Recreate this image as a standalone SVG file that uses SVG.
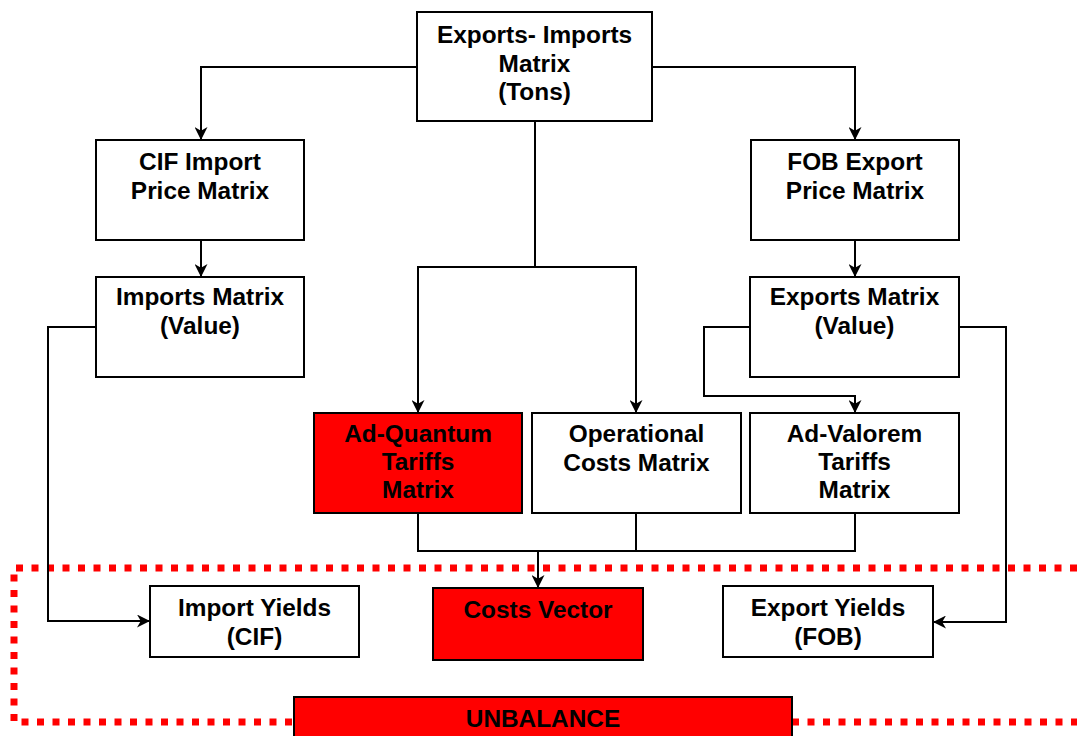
<svg xmlns="http://www.w3.org/2000/svg" width="1077" height="736" viewBox="0 0 1077 736">
  <style>
    .box { fill: #ffffff; stroke: #000000; stroke-width: 2; }
    .hot { fill: #ff0000; stroke: #000000; stroke-width: 2; }
    .lbl { font-family: "Liberation Sans", Arial, sans-serif; font-weight: bold; font-size: 24.4px; fill: #000000; text-anchor: middle; }
    .wire { fill: none; stroke: #000000; stroke-width: 2; }
    .arrow { marker-end: url(#head); }
    .zone { fill: none; stroke: #ff0000; stroke-width: 7; stroke-dasharray: 7 8.5; }
  </style>
  <defs>
    <marker id="head" viewBox="0 0 12 12" refX="12" refY="6" markerWidth="13" markerHeight="13" markerUnits="userSpaceOnUse" orient="auto">
      <path d="M0,0 L12,6 L0,12 L3.5,6 z" fill="#000000"/>
    </marker>
  </defs>

  <!-- dotted boundary of the balance area -->
  <g id="boundary">
    <path class="zone" d="M1077,568 L14,568 L14,722 L294,722"/>
    <path class="zone" d="M792,722 L1077,722"/>
  </g>

  <!-- connectors -->
  <g id="connectors">
    <path class="wire arrow" d="M417,67 L201,67 L201,140"/>
    <path class="wire arrow" d="M652,67 L855,67 L855,140"/>
    <path class="wire" d="M535,121 L535,267"/>
    <path class="wire arrow" d="M535,267 L418,267 L418,413"/>
    <path class="wire arrow" d="M535,267 L636,267 L636,413"/>
    <path class="wire arrow" d="M201,240 L201,277"/>
    <path class="wire arrow" d="M855,240 L855,277"/>
    <path class="wire arrow" d="M96,327 L48,327 L48,621 L150,621"/>
    <path class="wire arrow" d="M750,327 L704,327 L704,396 L855,396 L855,413"/>
    <path class="wire arrow" d="M959,327 L1006,327 L1006,622 L933,622"/>
    <path class="wire" d="M418,513 L418,551 L855,551 L855,513"/>
    <path class="wire" d="M636,513 L636,551"/>
    <path class="wire arrow" d="M538,551 L538,588"/>
  </g>

  <g id="exports-imports">
    <rect class="box" x="417" y="12" width="235" height="109"/>
    <text class="lbl" x="534.5" y="43">Exports- Imports</text>
    <text class="lbl" x="534.5" y="71.5">Matrix</text>
    <text class="lbl" x="534.5" y="100">(Tons)</text>
  </g>

  <g id="cif-price">
    <rect class="box" x="96" y="140" width="208" height="100"/>
    <text class="lbl" x="200" y="170">CIF Import</text>
    <text class="lbl" x="200" y="199">Price Matrix</text>
  </g>

  <g id="fob-price">
    <rect class="box" x="751" y="140" width="208" height="100"/>
    <text class="lbl" x="855" y="170">FOB Export</text>
    <text class="lbl" x="855" y="199">Price Matrix</text>
  </g>

  <g id="imports-value">
    <rect class="box" x="96" y="277" width="208" height="100"/>
    <text class="lbl" x="200" y="305">Imports Matrix</text>
    <text class="lbl" x="200" y="334">(Value)</text>
  </g>

  <g id="exports-value">
    <rect class="box" x="750" y="277" width="209" height="100"/>
    <text class="lbl" x="854.5" y="305">Exports Matrix</text>
    <text class="lbl" x="854.5" y="334">(Value)</text>
  </g>

  <g id="ad-quantum">
    <rect class="hot" x="314" y="413" width="208" height="100"/>
    <text class="lbl" x="418" y="442">Ad-Quantum</text>
    <text class="lbl" x="418" y="470">Tariffs</text>
    <text class="lbl" x="418" y="498">Matrix</text>
  </g>

  <g id="operational">
    <rect class="box" x="532" y="413" width="209" height="100"/>
    <text class="lbl" x="636.5" y="442">Operational</text>
    <text class="lbl" x="636.5" y="471">Costs Matrix</text>
  </g>

  <g id="ad-valorem">
    <rect class="box" x="750" y="413" width="209" height="100"/>
    <text class="lbl" x="854.5" y="442">Ad-Valorem</text>
    <text class="lbl" x="854.5" y="470">Tariffs</text>
    <text class="lbl" x="854.5" y="498">Matrix</text>
  </g>

  <g id="import-yields">
    <rect class="box" x="150" y="586" width="209" height="71"/>
    <text class="lbl" x="254.5" y="616">Import Yields</text>
    <text class="lbl" x="254.5" y="645">(CIF)</text>
  </g>

  <g id="costs-vector">
    <rect class="hot" x="433" y="588" width="210" height="72"/>
    <text class="lbl" x="538" y="618">Costs Vector</text>
  </g>

  <g id="export-yields">
    <rect class="box" x="723" y="586" width="210" height="71"/>
    <text class="lbl" x="828" y="616">Export Yields</text>
    <text class="lbl" x="828" y="645">(FOB)</text>
  </g>

  <g id="unbalance">
    <rect class="hot" x="294" y="697" width="498" height="50"/>
    <text class="lbl" x="543" y="727">UNBALANCE</text>
  </g>
</svg>
